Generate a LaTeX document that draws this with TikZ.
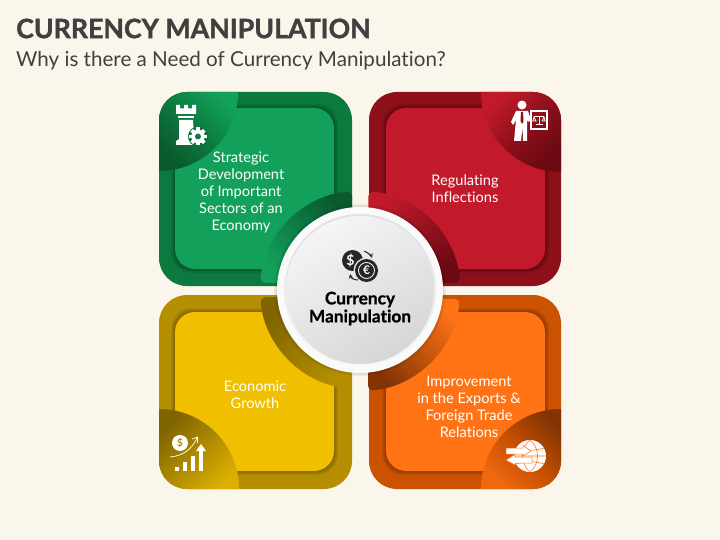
\documentclass[tikz,border=0pt]{standalone}
\usepackage{fontspec}
\setmainfont[Ligatures=NoCommon]{Lato}
\usetikzlibrary{positioning}
\definecolor{paper}{HTML}{FBF6EC}
\definecolor{ink}{HTML}{404040}
\definecolor{greenOut}{HTML}{0C7A3E}
\definecolor{greenIn}{HTML}{12A05A}
\definecolor{greenDark}{HTML}{0A5A2E}
\definecolor{redOut}{HTML}{8E101B}
\definecolor{redIn}{HTML}{C21A2B}
\definecolor{redDark}{HTML}{6A0A12}
\definecolor{yellowOut}{HTML}{B58F00}
\definecolor{yellowIn}{HTML}{F0BF00}
\definecolor{yellowDark}{HTML}{7F6400}
\definecolor{orangeOut}{HTML}{CB5200}
\definecolor{orangeIn}{HTML}{FF7315}
\definecolor{orangeDark}{HTML}{843404}
\definecolor{coin}{HTML}{262626}
\tikzset{
	tiletext/.style={
		align=center,
		text=white,
		font=\fontsize{14.6}{17}\selectfont
	},
	icon/.style={
		fill=white,
		draw=none
	},
	softedge/.style={
		black,
		opacity=.035,
		rounded corners=20pt
	}
}
\begin{document}
\begin{tikzpicture}[x=1pt,y=-1pt]
	\useasboundingbox (0,0) rectangle (720,540);
	\fill[paper] (0,0) rectangle (720,540);

	\node[anchor=west, text=ink, inner sep=0pt] (Title) at (16,28.5) {\fontsize{26.7}{30}\selectfont\addfontfeature{FakeBold=1.4}\bfseries CURRENCY MANIPULATION};
	\node[anchor=west, text=ink, inner sep=0pt] (Subtitle) at (16,60.5) {\fontsize{20.6}{24}\selectfont Why is there a Need of Currency Manipulation?};

	% green tile
	\fill[greenOut, rounded corners=28pt] (159,92) rectangle (352,286);
	\foreach \s in {4,3.5,...,0.5}
		\fill[softedge] (175-\s,108-\s) rectangle (334+\s,269+\s);
	\fill[greenIn, rounded corners=20pt] (175,108) rectangle (334,269);
	\begin{scope}
		\clip[rounded corners=28pt] (159,92) rectangle (352,286);
		\shade[top color=greenIn, bottom color=greenDark, middle color=greenOut, shading angle=-45] (159,92) -- (238,92) arc[start angle=0, end angle=-90, radius=79pt] -- cycle;
	\end{scope}

	% red tile
	\fill[redOut, rounded corners=28pt] (369,92) rectangle (561,286);
	\foreach \s in {4,3.5,...,0.5}
		\fill[softedge] (386-\s,108-\s) rectangle (545+\s,269+\s);
	\fill[redIn, rounded corners=20pt] (386,108) rectangle (545,269);
	\begin{scope}
		\clip[rounded corners=28pt] (369,92) rectangle (561,286);
		\shade[top color=redIn, bottom color=redDark, middle color=redOut, shading angle=45] (561,92) -- (561,172) arc[start angle=-90, end angle=-180, radius=80pt] -- cycle;
	\end{scope}

	% yellow tile
	\fill[yellowOut, rounded corners=28pt] (159,295) rectangle (352,489);
	\foreach \s in {4,3.5,...,0.5}
		\fill[softedge] (175-\s,312-\s) rectangle (334+\s,471+\s);
	\fill[yellowIn, rounded corners=20pt] (175,312) rectangle (334,471);
	\begin{scope}
		\clip[rounded corners=28pt] (159,295) rectangle (352,489);
		\shade[top color=yellowIn!65!yellowOut, bottom color=yellowDark, middle color=yellowOut!85!yellowDark, shading angle=-135] (159,489) -- (159,409) arc[start angle=90, end angle=0, radius=80pt] -- cycle;
	\end{scope}

	% orange tile
	\fill[orangeOut, rounded corners=28pt] (369,295) rectangle (561,489);
	\foreach \s in {4,3.5,...,0.5}
		\fill[softedge] (386-\s,312-\s) rectangle (545+\s,471+\s);
	\fill[orangeIn, rounded corners=20pt] (386,312) rectangle (545,471);
	\begin{scope}
		\clip[rounded corners=28pt] (369,295) rectangle (561,489);
		\shade[top color=orangeIn!70!orangeOut, bottom color=orangeDark, middle color=orangeOut!90!orangeDark, shading angle=135] (561,489) -- (481,489) arc[start angle=180, end angle=90, radius=80pt] -- cycle;
	\end{scope}

	% arcs round the centre
	\shade[top color=greenIn, bottom color=greenDark, shading angle=135, rounded corners=5pt] (352,191.3) arc[start angle=94.6, end angle=175.4, radius=100pt] -- (352,283) -- cycle;
	\shade[top color=redIn, bottom color=redDark, shading angle=45, rounded corners=5pt] (460,283) arc[start angle=4.6, end angle=85.4, radius=100pt] -- (368,283) -- cycle;
	\shade[top color=yellowOut, bottom color=yellowDark, shading angle=-135, rounded corners=5pt] (260.3,297) arc[start angle=184.6, end angle=265.4, radius=100pt] -- (352,297) -- cycle;
	\shade[top color=orangeIn, bottom color=orangeDark, shading angle=-45, rounded corners=5pt] (368,390.7) arc[start angle=274.6, end angle=355.4, radius=100pt] -- (368,297) -- cycle;

	% centre disc
	\foreach \s in {3,2,1}
		\fill[black, opacity=.04] (360,290) circle ({83+\s});
	\fill[white!98!black] (360,290) circle (83pt);
	\shade[top color=white!88!black, bottom color=white!97!black] (360,290) circle (76pt);
	\shade[top color=white!96!black, bottom color=white!84!black, shading angle=30] (360,290) circle (74pt);

	% texts
	\node[tiletext] (Strategic) at (241,192) {Strategic\\Development\\of Important\\Sectors of an\\Economy};
	\node[tiletext] (Regulating) at (465,189) {Regulating\\Inflections};
	\node[tiletext] (Growth) at (255,395) {Economic\\Growth};
	\node[tiletext] (Exports) at (469,407) {Improvement\\in the Exports \&\\Foreign Trade\\Relations};
	\node[align=center, text=black, font=\fontsize{17.3}{18}\selectfont\addfontfeature{FakeBold=1}\bfseries] (Center) at (360,308.5) {Currency\\Manipulation};

	% rook and gear
	\fill[icon] (176,105) -- (180,105) -- (180,108.5) -- (184,108.5) -- (184,105) -- (188,105) -- (188,108.5) -- (192,108.5) -- (192,105) -- (196,105) -- (196,114) -- (176,114) -- cycle;
	\fill[icon] (178,116) rectangle (194,118);
	\fill[icon] (179,120) -- (193,120) -- (194,134) -- (195,136) -- (195,140) -- (198,141) -- (198,145) -- (176,145) -- (176,141) -- (179,139) -- cycle;
	\fill[greenDark!70!greenIn] (198,136.5) circle (10pt);
	\foreach \a in {0,45,...,315}
		\fill[icon, rotate around={\a:(198,136.5)}] (196.2,127.5) rectangle (199.8,132);
	\fill[icon] (198,136.5) circle (6.8pt);
	\fill[greenOut] (198,136.5) circle (3pt);

	% presenter and board
	\fill[icon] (522,105) circle (4.5pt);
	\fill[icon] (516,111) -- (528,111) -- (531,120) -- (528,122) -- (527,119) -- (527,141) -- (523,141) -- (522.5,127) -- (521,141) -- (514,141) -- (516,120) -- (513,125) -- (511,122) -- cycle;
	\fill[redOut] (521,112) -- (523,112) -- (523.5,121) -- (522,124) -- (520.5,121) -- cycle;
	\draw[white, line width=2pt] (531,111) rectangle (547,129);
	\draw[white, line width=1pt] (534,117) -- (544,117) (539,116) -- (539,125) (535.5,125) -- (542.5,125);
	\draw[white, line width=.8pt] (534,117) -- (532.8,121) -- (536,121) -- cycle (544,117) -- (542.2,121) -- (545.2,121) -- cycle;

	% coin and chart
	\fill[icon] (180,443) circle (8pt);
	\node[text=yellowOut, inner sep=0pt, font=\fontsize{10}{10}\selectfont\bfseries] (Dollar) at (180,443) {\$};
	\draw[white, line width=.7pt] (170,457) .. controls (183,456) and (192,449) .. (197,438);
	\draw[white, line width=.7pt] (192,439) -- (197.5,437) -- (197.5,443);
	\foreach \xa/\ya in {175/467,183/462,191/456}
		\fill[icon] (\xa,\ya) rectangle (\xa+4,471);
	\fill[icon] (199,451) -- (203,451) -- (203,471) -- (199,471) -- cycle;
	\fill[icon] (201,444) -- (206,451) -- (196,451) -- cycle;

	% globe and arrows
	\fill[icon] (530,456) circle (16pt);
	\draw[orangeIn, line width=.6pt] (530,440) .. controls (520,448) and (520,464) .. (530,472) .. controls (540,464) and (540,448) .. (530,440);
	\draw[orangeIn, line width=.6pt] (516,448) .. controls (524,451) and (536,451) .. (544,448) (516,464) .. controls (524,461) and (536,461) .. (544,464) (514,456) -- (546,456);
	\fill[icon, draw=orangeIn, line width=.5pt] (506,448) -- (523,448) -- (523,445.5) -- (531,451) -- (523,456) -- (523,454) -- (506,454) -- cycle;
	\fill[icon, draw=orangeIn, line width=.5pt] (532,457) -- (515,457) -- (515,454.5) -- (506,460) -- (515,465) -- (515,463) -- (532,463) -- cycle;

	% currency coins
	\fill[coin] (352.5,260.5) circle (10.5pt);
	\node[text=white, inner sep=0pt, font=\fontsize{14}{14}\selectfont\bfseries] (DollarSign) at (350.5,260.5) {\$};
	\fill[white!90!black] (366.5,270.5) circle (13pt);
	\fill[coin] (366.5,270.5) circle (11.5pt);
	\draw[white, line width=.8pt] (366.5,270.5) circle (8pt);
	\node[text=white, inner sep=0pt, font=\fontsize{12}{12}\selectfont\bfseries] (Euro) at (366.5,270.5) {€};
	\draw[coin, line width=1pt, -stealth] (364,251) .. controls (368,253) and (371,255) .. (372,258);
	\draw[coin, line width=1pt, -stealth] (358,280) .. controls (354,280) and (351,278) .. (350,274);
\end{tikzpicture}
\end{document}
